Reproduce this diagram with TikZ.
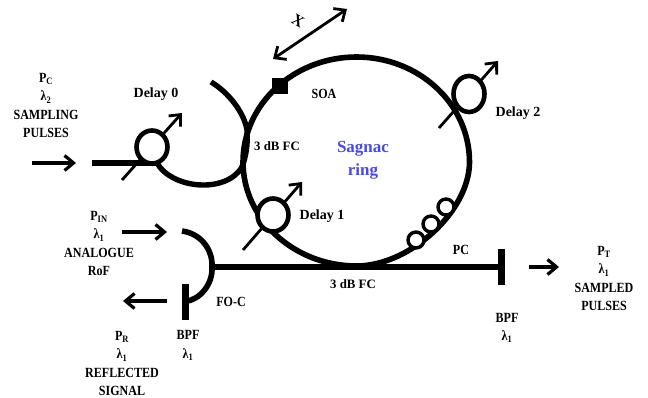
\documentclass[tikz,border=0pt]{standalone}
\usepackage{fontspec}
\setmainfont[FakeStretch=0.86]{Liberation Serif}
\newfontfamily\widefont{Liberation Serif}
\usetikzlibrary{arrows.meta,shapes.geometric}
\definecolor{ringblue}{RGB}{72,72,240}
\tikzset{
  fibre/.style={line width=5.4pt,black},
  thickfibre/.style={line width=6pt,black},
  arrowline/.style={line width=3.4pt,-{Straight Barb[length=9pt,width=15pt,line width=3.2pt]}},
  dblarrow/.style={line width=2.8pt,{Straight Barb[length=9pt,width=16pt,line width=2.8pt]}-{Straight Barb[length=9pt,width=16pt,line width=2.8pt]}},
  delayarrow/.style={line width=2.8pt,-{Straight Barb[length=9pt,width=16pt,line width=2.8pt]}},
  delayring/.style={ellipse,draw,line width=4.6pt,fill=white,inner sep=0pt},
  pcring/.style={circle,draw,line width=3.4pt,fill=white,minimum size=16pt,inner sep=0pt},
  barnode/.style={rectangle,fill=black,inner sep=0pt,minimum width=7pt,minimum height=36pt},
  lbl/.style={font=\bfseries\fontsize{14}{18.3}\selectfont,align=center,inner sep=0pt},
  wlbl/.style={font=\widefont\bfseries\fontsize{14}{18.3}\selectfont,align=center,inner sep=0pt},
  fclbl/.style={font=\widefont\bfseries\fontsize{12.8}{18.3}\selectfont,align=center,inner sep=0pt},
}
\begin{document}
\begin{tikzpicture}[x=1pt,y=-1pt]
\useasboundingbox (0,0) rectangle (648,398);
% Sagnac ring (right-hand lower quadrant is slightly tighter, as drawn in the reference)
\coordinate (rl) at (243,162);
\coordinate (rt) at (356.5,57);
\coordinate (rr) at (469.5,162);
\coordinate (rb) at (356.5,266);
\draw[line width=5.6pt] (rl) .. controls (243,104) and (294,57) .. (rt)
  .. controls (419,57) and (469.5,104) .. (rr)
  .. controls (469.5,211) and (410,266) .. (rb)
  .. controls (294,266) and (243,219) .. (rl) -- cycle;
% coupler arcs
\coordinate (c0in) at (157,163);
\coordinate (c0mid) at (242,167);
\coordinate (c0top) at (211,82);
\draw[fibre,line cap=round] (c0in) .. controls (172,189) and (226,194) .. (c0mid);
\draw[fibre] (c0top) .. controls (228,92) and (244,112) .. (247,130) .. controls (248,145) and (246,156) .. (c0mid);
% delay 0
\coordinate (d0a) at (122,180);
\coordinate (d0b) at (182,113);
\coordinate (inl) at (92,163);
\draw[thickfibre] (inl) -- (c0in);
\draw[delayarrow] (d0a) -- (d0b);
\node[delayring,minimum width=31pt,minimum height=33pt] (d0) at (152,147) {};
% delay 1
\coordinate (d1a) at (243,250);
\coordinate (d1b) at (302,182);
\draw[delayarrow] (d1a) -- (d1b);
\node[delayring,minimum width=31pt,minimum height=33pt] (d1) at (273,215) {};
% delay 2
\coordinate (d2a) at (439,128);
\coordinate (d2b) at (498,61);
\draw[delayarrow] (d2a) -- (d2b);
\node[delayring,minimum width=31pt,minimum height=36pt] (d2) at (469,94) {};
% SOA and X arrow
\node[rectangle,fill=black,minimum size=16pt,inner sep=0pt] (soa) at (280,86) {};
\coordinate (xa) at (273,59);
\coordinate (xb) at (347,9);
\draw[dblarrow] (xa) -- (xb);
\node[font=\widefont\bfseries\fontsize{16}{18}\selectfont,inner sep=0pt,rotate=-30] (xl) at (298,21) {X};
% PC rings
\node[pcring] (pc1) at (416,240) {};
\node[pcring] (pc2) at (431,224) {};
\node[pcring] (pc3) at (446,207) {};
% output fibre and filters
\node[barnode] (bpfr) at (501,267) {};
\node[barnode] (bpfl) at (185,301.5) {};
\coordinate (foin) at (182,231);
\coordinate (foj) at (212,267);
\draw[fibre] (foj) -- (bpfr.center);
\draw[line width=5.6pt] (foin) .. controls (203,234) and (213,252) .. (foj) .. controls (213,284) and (200,300) .. (bpfl.center);
% signal arrows
\coordinate (a1a) at (32,163); \coordinate (a1b) at (76,163);
\coordinate (a2a) at (122,232); \coordinate (a2b) at (167,232);
\coordinate (a3a) at (167,301); \coordinate (a3b) at (123,301);
\coordinate (a4a) at (529,267); \coordinate (a4b) at (559,267);
\draw[arrowline] (a1a) -- (a1b);
\draw[arrowline] (a2a) -- (a2b);
\draw[arrowline] (a3a) -- (a3b);
\draw[arrowline] (a4a) -- (a4b);
% labels
\node[lbl] (tpc) at (46,105.5) {P\textsubscript{C}\\λ\textsubscript{2}\\SAMPLING\\PULSES};
\node[lbl] (tpin) at (99,243.5) {P\textsubscript{IN}\\λ\textsubscript{1}\\ANALOGUE\\RoF};
\node[lbl] (tpr) at (122,363.5) {P\textsubscript{R}\\λ\textsubscript{1}\\REFLECTED\\SIGNAL};
\node[lbl] (tbl) at (188,345.5) {BPF\\λ\textsubscript{1}};
\node[lbl] (tpt) at (604,278.5) {P\textsubscript{T}\\λ\textsubscript{1}\\SAMPLED\\PULSES};
\node[lbl] (tbr) at (507,328) {BPF\\λ\textsubscript{1}};
\node[wlbl] (td0) at (156,94) {Delay 0};
\node[wlbl] (td1) at (322,216) {Delay 1};
\node[wlbl] (td2) at (518,113) {Delay 2};
\node[lbl] (tsoa) at (324,94) {SOA};
\node[fclbl] (tfc1) at (277,146) {3 dB FC};
\node[fclbl] (tfc2) at (353,284) {3 dB FC};
\node[lbl] (tfo) at (231,302) {FO-C};
\node[lbl] (tpcl) at (461,250) {PC};
\node[font=\widefont\bfseries\fontsize{17}{23}\selectfont,text=ringblue,align=center,inner sep=0pt] (tsag) at (363,160) {Sagnac\\ring};
\end{tikzpicture}
\end{document}
